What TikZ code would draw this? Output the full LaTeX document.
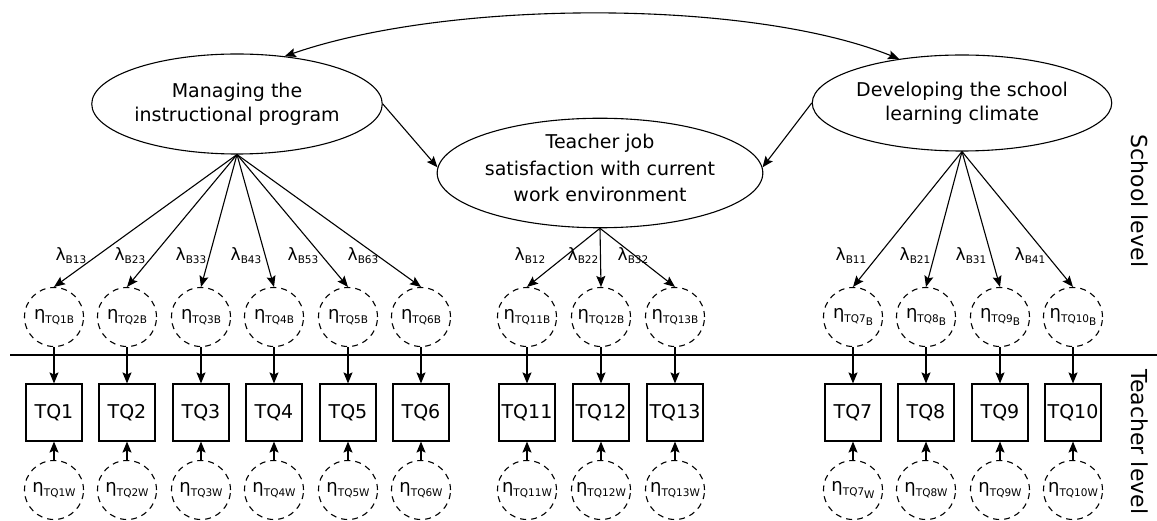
\documentclass[tikz,border=0pt]{standalone}
\usepackage{fontspec}
\setmainfont{DejaVu Sans}
\usetikzlibrary{arrows.meta,shapes.geometric}
\newcommand\myeta[1]{{\fontsize{18}{18}\selectfont η}\raisebox{-3.5pt}{\fontsize{10.5}{10.5}\selectfont #1}}
\newcommand\mylam[1]{{\fontsize{17}{17}\selectfont λ}\raisebox{-3pt}{\fontsize{10.5}{10.5}\selectfont B#1}}
\newcommand\mysub[1]{\raisebox{-3pt}{#1}}
\begin{document}
\begin{tikzpicture}[x=1pt,y=-1pt,
  latent/.style={ellipse, draw, line width=1.1pt, inner sep=0pt, align=center, font=\fontsize{19}{24}\selectfont},
  ind/.style={rectangle, draw, line width=1.1pt, minimum width=56pt, minimum height=57pt, inner sep=0pt, font=\fontsize{19}{19}\selectfont},
  err/.style={circle, draw, line width=1.1pt, dash pattern=on 6pt off 5pt, minimum size=59pt, inner sep=0pt},
  arr/.style={-{Stealth[length=11pt,width=9pt,inset=2pt]}, line width=1.1pt},
  darr/.style={{Stealth[length=11pt,width=9pt,inset=2pt]}-{Stealth[length=11pt,width=9pt,inset=2pt]}, line width=1.1pt},
  lab/.style={inner sep=0pt},
  side/.style={inner sep=0pt, rotate=-90, font=\fontsize{22}{22}\selectfont}]
\useasboundingbox (0,0) rectangle (1157,521);

% latent factors
\node[latent, minimum width=248pt, minimum height=100pt] (man) at (237,104) {Managing the\\instructional program};
\node[latent, minimum width=253pt, minimum height=100pt, font=\fontsize{19}{26.5}\selectfont] (tea) at (600,173) {Teacher job\\satisfaction with current\\work environment\rule[-10pt]{0pt}{10pt}};
\node[latent, minimum width=252pt, minimum height=96pt] (dev) at (962,103) {Developing the school\\learning climate};

% level separator
\coordinate (sepL) at (10,355);
\coordinate (sepR) at (1157,355);
\draw[line width=1.1pt] (sepL) -- (sepR);
\node[side] (school) at (1140,201) {School level};
\node[side] (teacher) at (1140,442) {Teacher level};

% between-level errors
\foreach \n/\x/\t in {1/54/TQ1B,2/127/TQ2B,3/201/TQ3B,4/274/TQ4B,5/348/TQ5B,6/421/TQ6B,11/527/TQ11B,12/601/TQ12B,13/675/TQ13B}
  \node[err] (b\n) at (\x,317) {\myeta{\t}};
\node[err] (b7) at (853,317) {\myeta{TQ7\mysub{B}}};
\node[err] (b8) at (926,317) {\myeta{TQ8\mysub{B}}};
\node[err] (b9) at (1000,317) {\myeta{TQ9\mysub{B}}};
\node[err] (b10) at (1073,317) {\myeta{TQ10\mysub{B}}};

% indicators
\foreach \n/\x in {1/54,2/127,3/201,4/274,5/348,6/421,11/527,12/601,13/675,7/853,8/926,9/1000,10/1073}
  \node[ind] (q\n) at (\x,412.5) {TQ\n};

% within-level errors
\foreach \n/\x/\t in {1/54/TQ1W,2/127/TQ2W,3/201/TQ3W,4/274/TQ4W,5/348/TQ5W,6/421/TQ6W,11/527/TQ11W,12/601/TQ12W,13/675/TQ13W,8/926/TQ8W,9/1000/TQ9W,10/1073/TQ10W}
  \node[err] (w\n) at (\x,490) {\myeta{\t}};
\node[err] (w7) at (853,490) {\myeta{TQ7\mysub{W}}};

% arrows between / within
\foreach \n in {1,2,3,4,5,6,11,12,13,7,8,9,10} {
  \draw[arr] (b\n.south) -- (q\n.north);
  \draw[arr] (w\n.north) -- (q\n.south);
}

% loadings
\foreach \n in {1,...,6} \draw[arr] (man.south) -- (b\n.north);
\foreach \n in {11,12,13} \draw[arr] (tea.south) -- (b\n.north);
\foreach \n in {7,8,9,10} \draw[arr] (dev.south) -- (b\n.north);

% loading labels
\node[lab] (l13) at (71,256) {\mylam{13}};
\node[lab] (l23) at (130,256) {\mylam{23}};
\node[lab] (l33) at (191,256) {\mylam{33}};
\node[lab] (l43) at (246,256) {\mylam{43}};
\node[lab] (l53) at (303,256) {\mylam{53}};
\node[lab] (l63) at (363,256) {\mylam{63}};
\node[lab] (l12) at (530,256) {\mylam{12}};
\node[lab] (l22) at (583,256) {\mylam{22}};
\node[lab] (l32) at (633,256) {\mylam{32}};
\node[lab] (l11) at (851,256) {\mylam{11}};
\node[lab] (l21) at (915,256) {\mylam{21}};
\node[lab] (l31) at (971,256) {\mylam{31}};
\node[lab] (l41) at (1030,256) {\mylam{41}};

% structural paths
\draw[arr] (man.east) -- (tea.178);
\draw[arr] (dev.west) -- (tea.2);
\draw[darr] (man.45) .. controls (450,-1) and (750,-1) .. (dev.145);
\end{tikzpicture}
\end{document}
